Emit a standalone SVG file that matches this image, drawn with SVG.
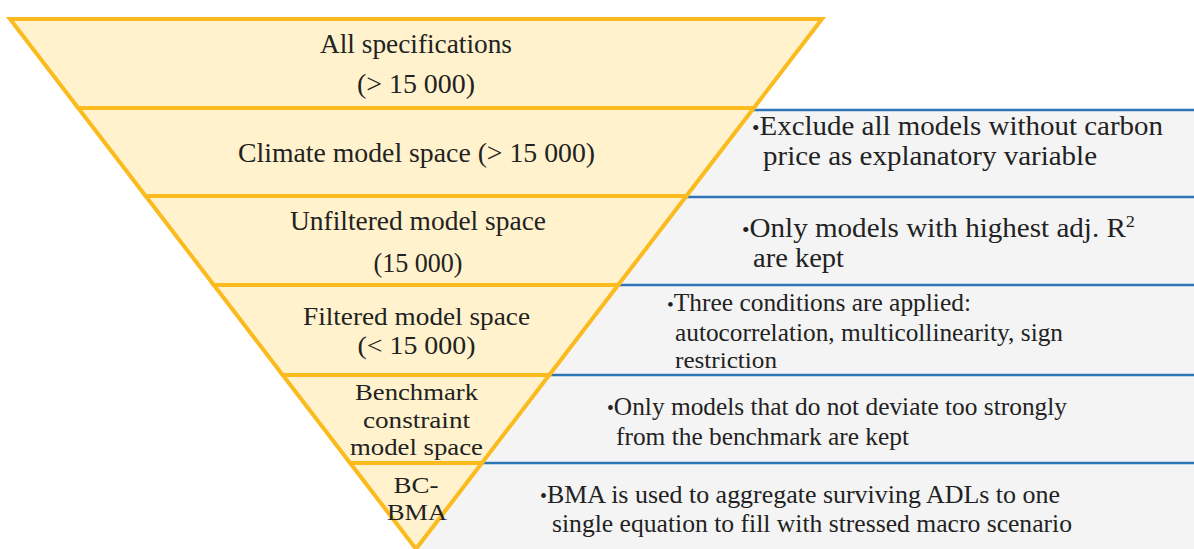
<svg xmlns="http://www.w3.org/2000/svg" width="1194" height="549" viewBox="0 0 1194 549">
<defs>
<style>
.band{fill:#fff2cc;stroke:#fbbb1f;stroke-width:4}
.sep{stroke:#2e75b6;stroke-width:2.5}
</style>
</defs>
<rect width="1194" height="549" fill="#ffffff"/>
<g id="panel">
<polygon points="752,110 1194,110 1194,549 416,549" fill="#f4f4f4"/>
</g>
<g id="connectors">
<line class="sep" x1="752" y1="110" x2="1194" y2="110"/>
<line class="sep" x1="686" y1="197" x2="1194" y2="197"/>
<line class="sep" x1="618" y1="285" x2="1194" y2="285"/>
<line class="sep" x1="549" y1="375" x2="1194" y2="375"/>
<line class="sep" x1="482" y1="463" x2="1194" y2="463"/>
</g>
<g id="band1">
<polygon class="band" points="10,19 822,19 753.8,108 78.2,108"/>
<text font-family="Liberation Serif" font-size="27" fill="#222" text-anchor="middle" x="416" y="53" textLength="192" lengthAdjust="spacingAndGlyphs">All specifications</text>
<text font-family="Liberation Serif" font-size="27" fill="#222" text-anchor="middle" x="416" y="93" textLength="118" lengthAdjust="spacingAndGlyphs">(&gt; 15 000)</text>
</g>
<g id="band2">
<polygon class="band" points="78.2,108 753.8,108 686.4,196 145.6,196"/>
<text font-family="Liberation Serif" font-size="27" fill="#222" text-anchor="middle" x="416.5" y="162" textLength="357" lengthAdjust="spacingAndGlyphs">Climate model space (&gt; 15 000)</text>
</g>
<g id="band3">
<polygon class="band" points="145.6,196 686.4,196 618.2,285 213.8,285"/>
<text font-family="Liberation Serif" font-size="27" fill="#222" text-anchor="middle" x="418" y="230" textLength="256" lengthAdjust="spacingAndGlyphs">Unfiltered model space</text>
<text font-family="Liberation Serif" font-size="27" fill="#222" text-anchor="middle" x="418" y="272" textLength="89" lengthAdjust="spacingAndGlyphs">(15 000)</text>
</g>
<g id="band4">
<polygon class="band" points="213.8,285 618.2,285 549.3,375 282.7,375"/>
<text font-family="Liberation Serif" font-size="26" fill="#222" text-anchor="middle" x="416.5" y="325" textLength="227" lengthAdjust="spacingAndGlyphs">Filtered model space</text>
<text font-family="Liberation Serif" font-size="26" fill="#222" text-anchor="middle" x="416.5" y="354" textLength="118" lengthAdjust="spacingAndGlyphs">(&lt; 15 000)</text>
</g>
<g id="band5">
<polygon class="band" points="282.7,375 549.3,375 481.9,463 350.1,463"/>
<text font-family="Liberation Serif" font-size="24" fill="#222" text-anchor="middle" x="416.5" y="400" textLength="123" lengthAdjust="spacingAndGlyphs">Benchmark</text>
<text font-family="Liberation Serif" font-size="24" fill="#222" text-anchor="middle" x="416.5" y="428" textLength="107" lengthAdjust="spacingAndGlyphs">constraint</text>
<text font-family="Liberation Serif" font-size="24" fill="#222" text-anchor="middle" x="416.5" y="455" textLength="133" lengthAdjust="spacingAndGlyphs">model space</text>
</g>
<g id="band6">
<polygon class="band" points="350.1,463 481.9,463 416,549"/>
<text font-family="Liberation Serif" font-size="24" fill="#222" text-anchor="middle" x="416" y="493" textLength="45" lengthAdjust="spacingAndGlyphs">BC-</text>
<text font-family="Liberation Serif" font-size="24" fill="#222" text-anchor="middle" x="417" y="520" textLength="60" lengthAdjust="spacingAndGlyphs">BMA</text>
</g>
<g id="note1">
<text font-family="Liberation Serif" font-size="27" fill="#222" x="752" y="135" textLength="411" lengthAdjust="spacingAndGlyphs"><tspan font-size="20">•</tspan>Exclude all models without carbon</text>
<text font-family="Liberation Serif" font-size="27" fill="#222" x="763" y="165" textLength="334" lengthAdjust="spacingAndGlyphs">price as explanatory variable</text>
</g>
<g id="note2">
<text font-family="Liberation Serif" font-size="27" fill="#222" x="742" y="237" textLength="393" lengthAdjust="spacingAndGlyphs"><tspan font-size="20">•</tspan>Only models with highest adj. R<tspan dy="-10" font-size="17">2</tspan></text>
<text font-family="Liberation Serif" font-size="27" fill="#222" x="753" y="267" textLength="91" lengthAdjust="spacingAndGlyphs">are kept</text>
</g>
<g id="note3">
<text font-family="Liberation Serif" font-size="25" fill="#222" x="667" y="311" textLength="304" lengthAdjust="spacingAndGlyphs"><tspan font-size="19">•</tspan>Three conditions are applied:</text>
<text font-family="Liberation Serif" font-size="25" fill="#222" x="675" y="341" textLength="388" lengthAdjust="spacingAndGlyphs">autocorrelation, multicollinearity, sign</text>
<text font-family="Liberation Serif" font-size="24" fill="#222" x="675" y="368" textLength="102" lengthAdjust="spacingAndGlyphs">restriction</text>
</g>
<g id="note4">
<text font-family="Liberation Serif" font-size="26" fill="#222" x="607" y="415" textLength="460" lengthAdjust="spacingAndGlyphs"><tspan font-size="20">•</tspan>Only models that do not deviate too strongly</text>
<text font-family="Liberation Serif" font-size="26" fill="#222" x="616" y="445" textLength="293" lengthAdjust="spacingAndGlyphs">from the benchmark are kept</text>
</g>
<g id="note5">
<text font-family="Liberation Serif" font-size="26" fill="#222" x="540" y="503" textLength="520" lengthAdjust="spacingAndGlyphs"><tspan font-size="20">•</tspan>BMA is used to aggregate surviving ADLs to one</text>
<text font-family="Liberation Serif" font-size="26" fill="#222" x="552" y="532" textLength="520" lengthAdjust="spacingAndGlyphs">single equation to fill with stressed macro scenario</text>
</g>
</svg>
